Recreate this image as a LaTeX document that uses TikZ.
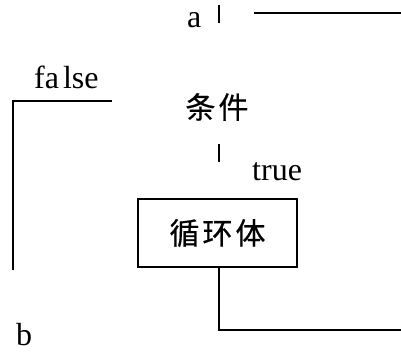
\documentclass[tikz,border=0pt]{standalone}
\usepackage{fontspec}
\setmainfont{Liberation Serif}
\newfontfamily\cjk[FakeBold=0.6]{Noto Sans CJK SC}
\begin{document}
\begin{tikzpicture}[x=1pt,y=-1pt,
  conn/.style={line width=2.2pt},
  lbl/.style={inner sep=0pt, font=\fontsize{32}{34}\selectfont},
  cjklbl/.style={inner sep=0pt, font=\cjk\fontsize{30}{32}\selectfont},
  bodybox/.style={draw, line width=2.2pt, minimum width=159pt, minimum height=68pt, inner sep=0pt, font=\cjk\fontsize{30}{32}\selectfont}]
\useasboundingbox (0,0) rectangle (401,353);
% texts
\node[lbl, anchor=base west] (a) at (187,28) {a};
\node[lbl, anchor=base west] (false) at (34,88) {fa\hspace{4pt}lse};
\node[cjklbl] (cond) at (217,107) {条\hspace{3pt}件};
\node[lbl, anchor=base west] (true) at (252,180) {true};
\node[bodybox] (body) at (217.5,233) {循\hspace{3pt}环\hspace{3pt}体};
\node[lbl, anchor=base west] (b) at (16,345) {b};
% coordinates
\coordinate (t1a) at (219,5);
\coordinate (t1b) at (219,23);
\coordinate (topL) at (254,13);
\coordinate (topR) at (401,13);
\coordinate (fA) at (112,101);
\coordinate (fB) at (13,101);
\coordinate (fC) at (13,270);
\coordinate (t2a) at (219,144);
\coordinate (t2b) at (219,162);
\coordinate (bot) at (219,330);
\coordinate (botR) at (401,330);
% lines
\draw[conn] (t1a) -- (t1b);
\draw[conn] (topL) -- (topR);
\draw[conn] (fA) -- (fB) -- (fC);
\draw[conn] (t2a) -- (t2b);
\draw[conn] (body.south -| bot) -- (bot) -- (botR);
\end{tikzpicture}
\end{document}
